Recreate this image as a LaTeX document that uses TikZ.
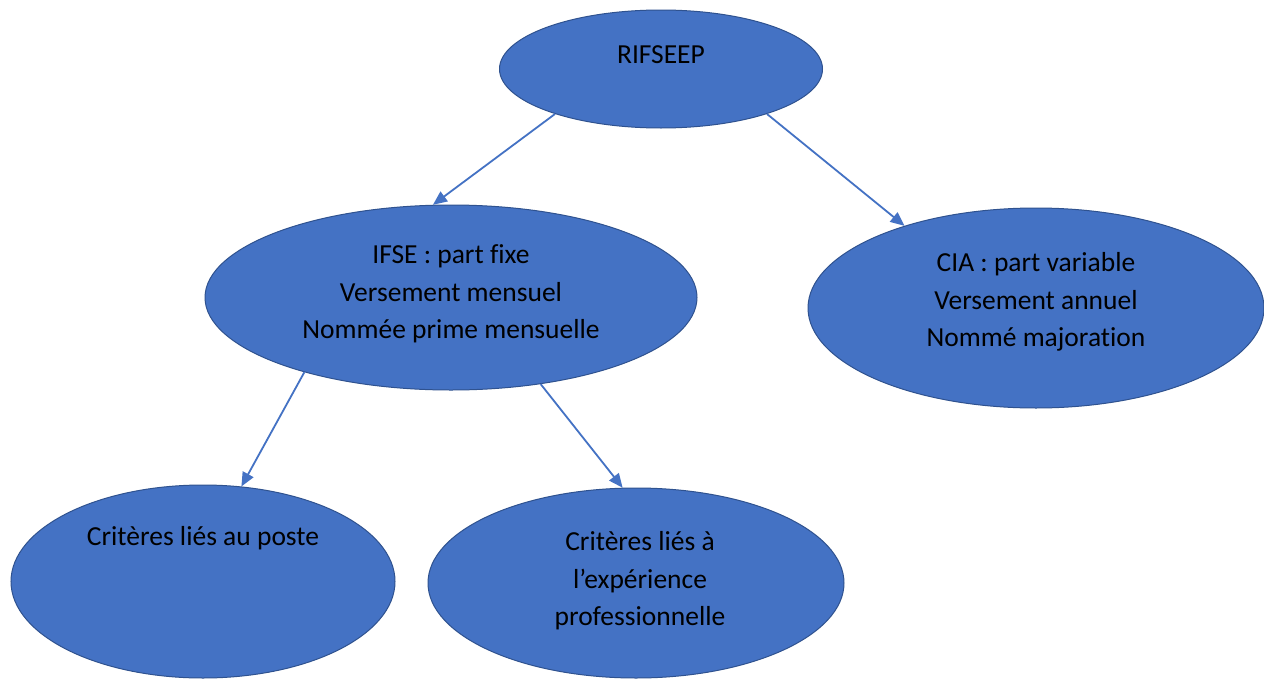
\documentclass[tikz,border=0pt]{standalone}
\usepackage{fontspec}
\setmainfont{Carlito}[Ligatures={NoCommon}]
\usetikzlibrary{arrows.meta,shapes.geometric}
\definecolor{fillblue}{HTML}{4472C4}
\definecolor{edgeblue}{HTML}{2F528F}
\tikzset{
  ell/.style={ellipse, draw=edgeblue, line width=1pt, fill=fillblue, inner sep=0pt},
  txt/.style={align=center, text=black, font=\fontsize{27.5}{37.5}\selectfont, inner sep=0pt},
  arr/.style={draw=fillblue, line width=1.8pt, -{Triangle[length=14pt,width=12pt]}}
}
\begin{document}
\begin{tikzpicture}[x=1pt,y=-1pt]
\useasboundingbox (0,0) rectangle (1264,680);
\fill[white] (0,0) rectangle (1264,680);
\node[ell, minimum width=323, minimum height=118] (rif) at (661,69) {};
\node[txt] (riftxt) at (661,55) {RIFSEEP};
\node[ell, minimum width=492, minimum height=185] (ifse) at (451,297.5) {};
\node[txt] (ifsetxt) at (451,294) {IFSE : part fixe\\Versement mensuel\\Nommée prime mensuelle};
\node[ell, minimum width=456, minimum height=200] (cia) at (1036,308) {};
\node[txt] (ciatxt) at (1036,302) {CIA : part variable\\Versement annuel\\Nommé majoration};
\node[ell, minimum width=384, minimum height=193] (poste) at (203,581.5) {};
\node[txt] (postetxt) at (203,538) {Critères liés au poste};
\node[ell, minimum width=416, minimum height=190] (exp) at (636,583) {};
\node[txt] (exptxt) at (640,581) {Critères liés à\\l’expérience\\professionnelle};
\draw[arr] (rif.203.5) -- (ifse.101);
\draw[arr] (rif.337) -- (cia.148.6);
\draw[arr] (ifse.207.5) -- (poste.68);
\draw[arr] (ifse.316.5) -- (exp.98);
\end{tikzpicture}
\end{document}
